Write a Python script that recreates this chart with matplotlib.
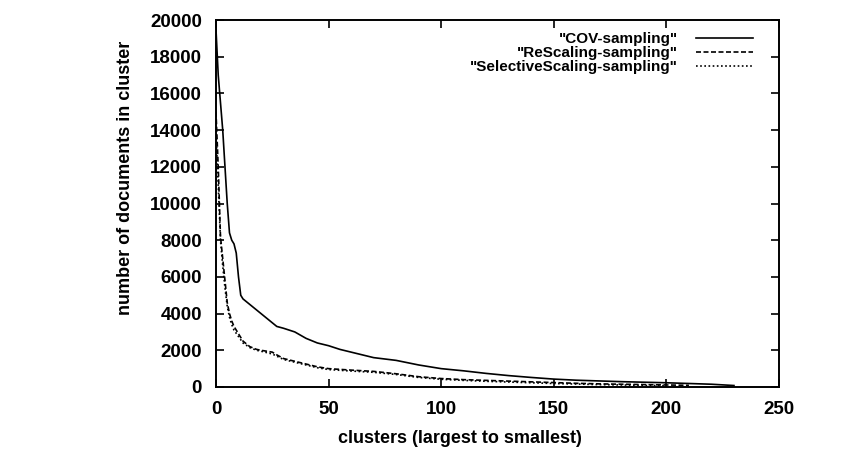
import matplotlib.pyplot as plt

plt.rcParams['font.family'] = ['Liberation Sans', 'DejaVu Sans']

# cluster index (largest to smallest) and sizes
cov_x = [0, 1, 2, 3, 4, 5, 6, 7, 8, 9, 10, 11, 12, 15, 20, 25, 27, 30, 35, 40, 45,
         50, 55, 60, 70, 80, 90, 100, 110, 120, 130, 140, 150, 160, 170, 180,
         190, 200, 210, 220, 230]
cov_y = [19500, 17000, 15500, 14000, 12000, 10000, 8400, 8000, 7800, 7300, 6000,
         5000, 4800, 4500, 4000, 3500, 3300, 3200, 3000, 2650, 2400, 2250, 2050,
         1900, 1600, 1450, 1200, 1000, 880, 740, 620, 520, 430, 370, 330, 290,
         260, 230, 190, 150, 80]

resc_x = [0, 1, 2, 3, 4, 5, 6, 7, 8, 10, 12, 15, 18, 20, 25, 27, 30, 35, 40, 45,
          50, 60, 70, 80, 90, 100, 110, 120, 130, 140, 150, 160, 170, 180, 190,
          200, 210]
resc_y = [15000, 12000, 8200, 7000, 5800, 4600, 4000, 3600, 3300, 2900, 2500,
          2200, 2050, 2000, 1900, 1750, 1550, 1400, 1250, 1100, 1000, 920, 850,
          720, 560, 460, 400, 360, 320, 280, 240, 200, 170, 150, 130, 110, 90]

sel_x = [0, 1, 2, 3, 4, 5, 6, 7, 8, 10, 12, 15, 18, 20, 25, 30, 35, 40, 45, 50,
         60, 70, 80, 90, 100, 110, 120, 130, 140, 150, 160, 170, 180, 190, 200]
sel_y = [14000, 11000, 8000, 6600, 5400, 4400, 3800, 3400, 3100, 2750, 2400,
         2150, 2000, 1950, 1800, 1500, 1350, 1200, 1050, 950, 870, 800, 680, 520,
         420, 360, 310, 270, 230, 190, 160, 130, 110, 90, 70]

fig = plt.figure(figsize=(8.42, 4.57), dpi=100)
ax = fig.add_axes([0.2565, 0.1532, 0.6687, 0.8030])

ax.plot(cov_x, cov_y, color='black', lw=1.2, ls='-', label='"COV-sampling"')
ax.plot(resc_x, resc_y, color='black', lw=1.2, ls=(0, (3.0, 1.5)),
        label='"ReScaling-sampling"')
ax.plot(sel_x, sel_y, color='black', lw=1.2, ls=(0, (1.0, 1.5)),
        label='"SelectiveScaling-sampling"')

ax.set_xlim(0, 250)
ax.set_ylim(0, 20000)
ax.set_xticks(range(0, 251, 50))
ax.set_yticks(range(0, 20001, 2000))
ax.tick_params(direction='in', length=6, width=1.2, top=True, right=True,
               labelsize=13.5)
ax.tick_params(axis='x', pad=10)
ax.tick_params(axis='y', pad=10)
for lab in ax.get_xticklabels() + ax.get_yticklabels():
    lab.set_fontweight('bold')
for s in ax.spines.values():
    s.set_linewidth(1.4)

ax.set_xlabel('clusters (largest to smallest)', fontsize=13, fontweight='bold')
ax.set_ylabel('number of documents in cluster', fontsize=13, fontweight='bold')
ax.xaxis.set_label_coords(0.433, -0.117)
ax.yaxis.set_label_coords(-0.146, 0.57)

ax.legend(loc='upper right', bbox_to_anchor=(1 - 26 / 563, 1 - 12 / 367),
          frameon=False, markerfirst=False, borderaxespad=0, borderpad=0,
          handlelength=3.7, handletextpad=1.2, labelspacing=0.0,
          prop={'size': 11, 'weight': 'bold'})

fig.savefig('out.png', dpi=100)
